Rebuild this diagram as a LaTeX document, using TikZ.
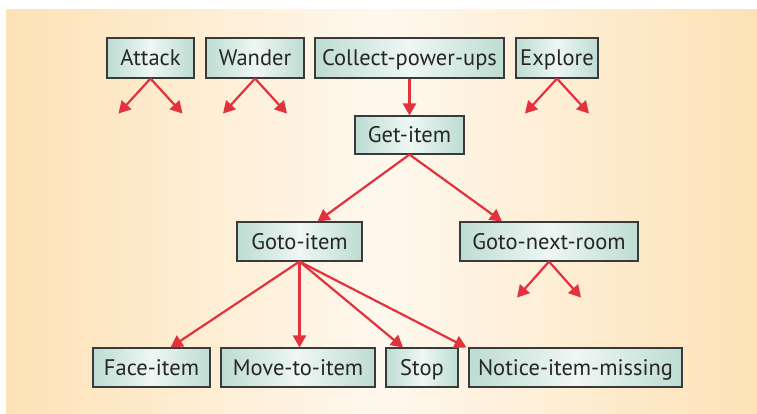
\documentclass[tikz,border=0pt]{standalone}
\usepackage{fontspec}
\setmainfont{PT Sans}
\usetikzlibrary{arrows.meta,calc}
\definecolor{bgedge}{HTML}{FDE2B6}
\definecolor{bgmid}{HTML}{FEF8EE}
\definecolor{boxedge}{HTML}{BDDCD2}
\definecolor{boxmid}{HTML}{EEF7F4}
\definecolor{arr}{HTML}{E2323D}
\definecolor{bord}{HTML}{3A3A3A}
\begin{document}
\begin{tikzpicture}[x=1pt,y=-1pt,
  box/.style={draw=bord,line width=1.1pt,left color=boxedge,right color=boxedge,middle color=boxmid,
    minimum height=40pt,inner sep=0pt,text height=15.5pt,text depth=0pt,
    font=\fontsize{22.5}{26}\selectfont,text=black!85},
  arrow/.style={draw=arr,line width=2.2pt,-{Triangle[length=12pt,width=13pt]}}]
\useasboundingbox (0,0) rectangle (757,413);
\fill[white] (0,0) rectangle (757,413);
\shade[left color=bgedge,right color=bgedge,middle color=bgmid] (6,9) rectangle (757,413);
\node[box,minimum width=87pt] (at) at (150.5,58) {Attack};
\node[box,minimum width=98pt] (wa) at (255,58) {Wander};
\node[box,minimum width=189pt] (cp) at (409.5,58) {Collect-power-ups};
\node[box,minimum width=82pt] (ex) at (557,58) {Explore};
\node[box,minimum width=109pt,minimum height=38pt] (gi) at (409.5,135) {Get-item};
\node[box,minimum width=125pt,minimum height=39pt] (go) at (299.5,241.5) {Goto-item};
\node[box,minimum width=178pt,minimum height=39pt] (gn) at (549,241.5) {Goto-next-room};
\node[box,minimum width=117pt,minimum height=39pt] (fi) at (151.5,367.5) {Face-item};
\node[box,minimum width=154pt,minimum height=39pt] (mi) at (298,367.5) {Move-to-item};
\node[box,minimum width=72pt,minimum height=39pt] (st) at (422,367.5) {Stop};
\node[box,minimum width=213pt,minimum height=39pt] (nm) at (575.5,367.5) {Notice-item-missing};
% free ends
\foreach \n in {at,wa,ex}{
  \coordinate (\n L) at ($(\n.south)+(-32,35)$);
  \coordinate (\n R) at ($(\n.south)+(32,35)$);
  \draw[arrow] (\n.south) -- (\n L);
  \draw[arrow] (\n.south) -- (\n R);
}
\coordinate (gnL) at ($(gn.south)+(-32,36)$);
\coordinate (gnR) at ($(gn.south)+(32,36)$);
\draw[arrow] (gn.south) -- (gnL);
\draw[arrow] (gn.south) -- (gnR);
\draw[arrow] (cp.south) -- (gi.north);
\draw[arrow] (gi.south) -- ($(go.north)+(18,0)$);
\draw[arrow] (gi.south) -- ($(gn.north)+(-47,0)$);
\draw[arrow] (go.south) -- ($(fi.north)+(19,0)$);
\draw[arrow] (go.south) -- (mi.north -| go.south);
\draw[arrow] (go.south) -- ($(st.north)+(-19,0)$);
\draw[arrow] (go.south) -- ($(nm.north west)+(-2,0)$);
\end{tikzpicture}
\end{document}
